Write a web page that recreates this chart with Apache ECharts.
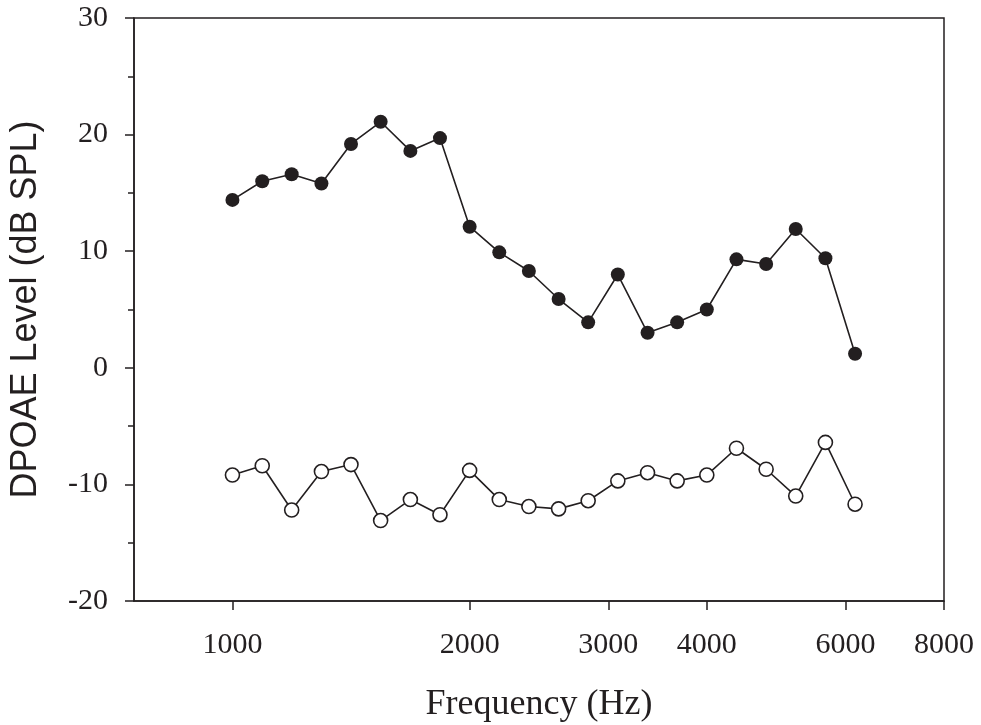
<!DOCTYPE html>
<html>
<head>
<meta charset="utf-8">
<script src="https://cdn.jsdelivr.net/npm/echarts@6/dist/echarts.min.js"></script>
<style>
html,body{margin:0;padding:0;background:#fff;}
#chart{width:981px;height:725px;}
</style>
</head>
<body>
<div id="chart"></div>
<script>
// Frequencies (Hz), 1/8-octave steps
const frequencies = [1000, 1091, 1189, 1297, 1414, 1542, 1682, 1834, 2000, 2181, 2378, 2594, 2828, 3084, 3364, 3668, 4000, 4362, 4757, 5187, 5657, 6169];
// DPOAE level (dB SPL)
const dpoaeLevel = [14.4, 16.0, 16.6, 15.8, 19.2, 21.1, 18.6, 19.7, 12.1, 9.9, 8.3, 5.9, 3.9, 8.0, 3.0, 3.9, 5.0, 9.3, 8.9, 11.9, 9.4, 1.2];
// Noise floor (dB SPL)
const noiseFloor = [-9.2, -8.4, -12.2, -8.9, -8.3, -13.1, -11.3, -12.6, -8.8, -11.3, -11.9, -12.1, -11.4, -9.7, -9.0, -9.7, -9.2, -6.9, -8.7, -11.0, -6.4, -11.7];
// Tick labels
const xTicks = [1000, 2000, 3000, 4000, 6000, 8000];
const yTicks = [-20, -10, 0, 10, 20, 30];

const ink = '#231f20';
const serif = '"Liberation Serif", "Times New Roman", serif';
const sans = '"Liberation Sans", Arial, sans-serif';

const chart = echarts.init(document.getElementById('chart'), null, {renderer: 'canvas'});
chart.setOption({
  animation: false,
  backgroundColor: '#ffffff',
  grid: {left: 134, right: 37, top: 18, bottom: 124, containLabel: false, outerBoundsMode: 'none', show: true, borderColor: ink, borderWidth: 1.5, backgroundColor: 'transparent'},
  xAxis: {
    type: 'log', logBase: 2, min: 750, max: 8000,
    name: 'Frequency (Hz)', nameLocation: 'middle', nameGap: 86,
    nameTextStyle: {fontFamily: serif, fontSize: 36, color: ink},
    axisLine: {show: true, onZero: false, lineStyle: {color: ink, width: 1.5}},
    axisTick: {show: true, inside: false, length: 9, lineStyle: {color: ink, width: 1.5}, customValues: xTicks},
    axisLabel: {show: true, customValues: xTicks, margin: 29, fontFamily: serif, fontSize: 30, color: ink, formatter: v => String(Math.round(v))},
    splitLine: {show: false}, minorTick: {show: false}, minorSplitLine: {show: false}
  },
  yAxis: {
    type: 'value', min: -20, max: 30, interval: 10,
    name: 'DPOAE Level (dB SPL)', nameLocation: 'middle', nameGap: 90,
    nameTextStyle: {fontFamily: sans, fontSize: 36, color: ink},
    axisLine: {show: true, onZero: false, lineStyle: {color: ink, width: 1.5}},
    axisTick: {show: true, inside: false, length: 9, lineStyle: {color: ink, width: 1.5}},
    minorTick: {show: true, splitNumber: 2, length: 6, lineStyle: {color: ink, width: 1.5}},
    axisLabel: {margin: 26, fontFamily: serif, fontSize: 30, color: ink, customValues: yTicks},
    splitLine: {show: false}
  },
  series: [
    {
      type: 'line', name: 'DPOAE',
      data: frequencies.map((f, i) => [f, dpoaeLevel[i]]),
      symbol: 'circle', symbolSize: 14, showSymbol: true,
      lineStyle: {color: ink, width: 1.6},
      itemStyle: {color: ink, borderColor: ink, borderWidth: 0},
      z: 3
    },
    {
      type: 'line', name: 'Noise',
      data: frequencies.map((f, i) => [f, noiseFloor[i]]),
      symbol: 'circle', symbolSize: 14, showSymbol: true,
      lineStyle: {color: ink, width: 1.6},
      itemStyle: {color: '#ffffff', borderColor: ink, borderWidth: 1.6},
      z: 3
    }
  ]
});
</script>
</body>
</html>
